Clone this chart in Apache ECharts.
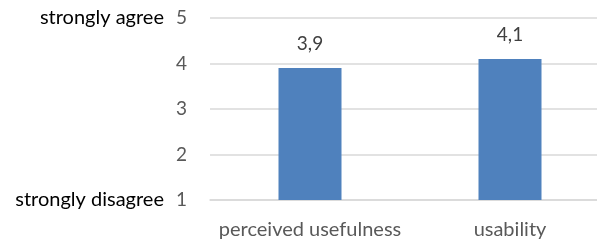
<!DOCTYPE html>
<html>
<head>
<meta charset="utf-8">
<script src="https://cdn.jsdelivr.net/npm/echarts@6/dist/echarts.min.js"></script>
<style>
  html, body { margin: 0; padding: 0; background: #fff; overflow: hidden; }
  #chart { width: 610px; height: 240px; }
</style>
</head>
<body>
<div id="chart"></div>
<script>
// categories and values
var categories = ['perceived usefulness', 'usability'];
var scores = [3.9, 4.1];
// y axis tick labels and the anchor words next to the ends
var yTicks = [1, 2, 3, 4, 5];
var yAnchors = { 1: 'strongly disagree', 5: 'strongly agree' };

var chart = echarts.init(document.getElementById('chart'));
var font = 'Lato, "Open Sans", sans-serif';

var option = {
    animation: false,
    grid: {
        left: 210,
        top: 18,
        right: 0,
        bottom: 37,
        containLabel: false
    },
    xAxis: {
        type: 'category',
        data: categories,
        axisLine: { lineStyle: { color: '#d9d9d9', width: 1.5 } },
        axisTick: { show: false },
        axisLabel: {
            interval: 0,
            color: '#595959',
            fontFamily: font,
            fontSize: 20,
            margin: 20
        }
    },
    yAxis: {
        type: 'value',
        min: yTicks[0],
        max: yTicks[yTicks.length - 1],
        interval: 1,
        axisLine: { show: false },
        axisTick: { show: false },
        splitLine: { lineStyle: { color: '#d9d9d9', width: 1.5 } },
        axisLabel: {
            margin: 23,
            fontFamily: font,
            formatter: function (v) {
                var a = yAnchors[v];
                return a ? '{a|' + a + '}{n|' + v + '}' : '{n|' + v + '}';
            },
            rich: {
                a: { color: '#000', fontFamily: font, fontSize: 20, padding: [0, 12, 0, 0] },
                n: { color: '#595959', fontFamily: font, fontSize: 19 }
            }
        }
    },
    series: [{
        type: 'bar',
        data: scores,
        barWidth: 63,
        itemStyle: { color: '#4f81bd' },
        label: {
            show: true,
            position: 'top',
            distance: 15,
            color: '#404040',
            fontFamily: font,
            fontSize: 19,
            formatter: function (p) {
                return String(p.value).replace('.', ',');
            }
        }
    }]
};

chart.setOption(option);
</script>
</body>
</html>
